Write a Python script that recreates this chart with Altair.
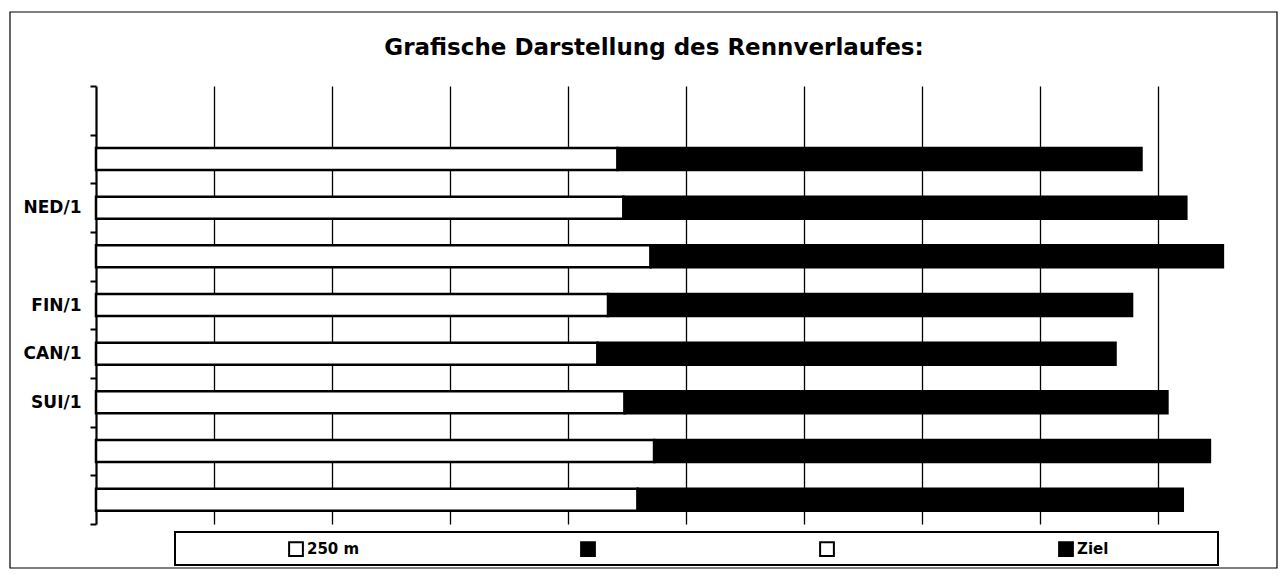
import altair as alt
import pandas as pd
import json

# ---- data ----
title_text = "Grafische Darstellung des Rennverlaufes:"
slot_labels = ["", "", "NED/1", "", "FIN/1", "CAN/1", "SUI/1", "", ""]
bar_slots = [1, 2, 3, 4, 5, 6, 7, 8]
split_250 = [4.42, 4.47, 4.70, 4.34, 4.25, 4.48, 4.73, 4.59]
finish = [8.86, 9.24, 9.55, 8.78, 8.64, 9.08, 9.44, 9.21]
series_names = ["250 m", "500 m", "750 m", "Ziel"]
series_fill = ["white", "black", "white", "black"]
legend_shown = ["250 m", "", "", "Ziel"]
grid_values = [1, 2, 3, 4, 5, 6, 7, 8, 9]

rows = []
for s, a, f in zip(bar_slots, split_250, finish):
    rows.append({"slot": s, "series": "250 m", "start": 0.0, "end": a})
    rows.append({"slot": s, "series": "Ziel", "start": a, "end": f})
df = pd.DataFrame(rows)

FONT = "DejaVu Sans"

label_expr = json.dumps(slot_labels) + "[datum.value]"
legend_expr = (json.dumps(legend_shown) + "[indexof(" + json.dumps(series_names) + ", datum.label)]")

bars = alt.Chart(df).mark_bar(stroke="black", strokeWidth=2.5, size=22).encode(
    y=alt.Y("slot:O",
            scale=alt.Scale(domain=list(range(len(slot_labels))), paddingInner=0, paddingOuter=0),
            axis=alt.Axis(title=None, labelExpr=label_expr, tickBand="extent",
                          labelFont=FONT, labelFontSize=17, labelFontWeight="bold",
                          labelColor="black", labelPadding=9, tickSize=6, tickWidth=2,
                          tickColor="black", domainColor="black", domainWidth=2.2,
                          grid=False)),
    x=alt.X("start:Q",
            scale=alt.Scale(domain=[0, 10], nice=False, zero=True),
            axis=alt.Axis(title=None, values=grid_values, grid=True, gridColor="black",
                          gridWidth=1.3, gridOpacity=1, labels=False, ticks=False,
                          domain=False)),
    x2="end:Q",
    fill=alt.Fill("series:N",
                  scale=alt.Scale(domain=series_names, range=series_fill),
                  legend=alt.Legend(title=None, orient="none", legendX=192, legendY=455,
                                    direction="horizontal", symbolType="square",
                                    symbolSize=190, symbolStrokeColor="black",
                                    symbolStrokeWidth=2, labelExpr=legend_expr,
                                    labelFont=FONT, labelFontSize=15,
                                    labelFontWeight="bold", labelColor="black",
                                    labelOffset=3, columnPadding=217, padding=0)),
)

deco = pd.DataFrame({"k": [0]})
frame = alt.Chart(deco).mark_rect(fillOpacity=0, stroke="black", strokeWidth=1.2).encode(
    x=alt.value(-86), x2=alt.value(1181), y=alt.value(-74), y2=alt.value(482)
)
legend_box = alt.Chart(deco).mark_rect(fillOpacity=0, stroke="black", strokeWidth=2).encode(
    x=alt.value(79), x2=alt.value(1122), y=alt.value(446), y2=alt.value(479)
)

chart = alt.layer(frame, legend_box, bars).properties(
    width=1180,
    height=438,
    padding={"left": 1, "top": 3, "right": 0, "bottom": 0},
    title=alt.TitleParams(text=title_text, font=FONT, fontSize=23, fontWeight="bold",
                          color="black", anchor="middle", offset=-49, baseline="top",
                          dx=-32),
).configure(background="white").configure_view(stroke=None, strokeWidth=0)

chart.save("out.html", embed_options={"renderer": "svg", "actions": False})
